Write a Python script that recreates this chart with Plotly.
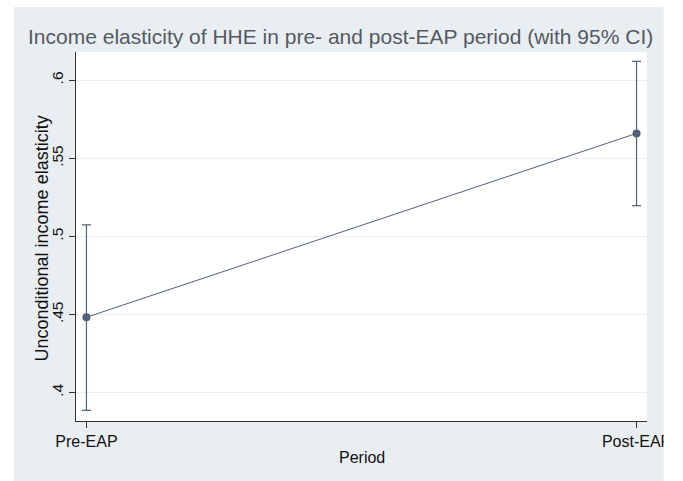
import plotly.graph_objects as go

# Income elasticity estimates with 95% confidence bounds
periods = ["Pre-EAP", "Post-EAP"]
elasticity = [0.4483, 0.5660]
ci_lower = [0.3887, 0.5198]
ci_upper = [0.5075, 0.6121]
y_ticks = [0.4, 0.45, 0.5, 0.55, 0.6]
y_tick_labels = [".4", ".45", ".5", ".55", ".6"]

x_pos = list(range(len(periods)))
err_plus = [u - e for u, e in zip(ci_upper, elasticity)]
err_minus = [e - l for l, e in zip(ci_lower, elasticity)]

W, H = 683, 481
ML, MR, MT, MB = 76, 28, 52, 60
PW, PH = W - ML - MR, H - MT - MB


def px_x(px):
    return (px - ML) / PW


def px_y(py):
    return (H - MB - py) / PH


mark_color = "#52627a"
font_family = "Liberation Sans, Arial, Helvetica, sans-serif"

fig = go.Figure()
fig.add_trace(go.Scatter(
    x=x_pos, y=elasticity,
    mode="lines+markers",
    line=dict(color=mark_color, width=1),
    marker=dict(color=mark_color, size=8),
    error_y=dict(type="data", symmetric=False, array=err_plus,
                 arrayminus=err_minus, color=mark_color,
                 thickness=1.2, width=4.5),
    showlegend=False,
    cliponaxis=False,
))

fig.update_layout(
    width=W, height=H,
    margin=dict(l=ML, r=MR, t=MT, b=MB, pad=0),
    paper_bgcolor="white",
    plot_bgcolor="white",
    font=dict(family=font_family, color="#111111", size=15),
    xaxis=dict(
        range=[-0.019, 1.019],
        tickvals=x_pos, ticktext=periods,
        ticks="outside", ticklen=6, tickwidth=1, tickcolor="#333333",
        showline=True, linecolor="#333333", linewidth=1,
        showgrid=False, zeroline=False,
        tickfont=dict(size=16, color="#111111"),
    ),
    yaxis=dict(
        range=[0.3819, 0.6181],
        tickvals=y_ticks, ticktext=y_tick_labels,
        tickangle=-90,
        ticks="outside", ticklen=6, tickwidth=1, tickcolor="#333333",
        showline=True, linecolor="#333333", linewidth=1,
        showgrid=True, gridcolor="#e9eef2", gridwidth=1,
        zeroline=False,
        tickfont=dict(size=15.5, color="#111111"),
    ),
    shapes=[
        # graph region background
        dict(type="rect", xref="paper", yref="paper", layer="below",
             x0=px_x(13), x1=px_x(672), y0=px_y(481), y1=px_y(7),
             fillcolor="#e9eef2", line=dict(width=0)),
        # white plot region on top of the background
        dict(type="rect", xref="paper", yref="paper", layer="below",
             x0=0, x1=1, y0=0, y1=1,
             fillcolor="white", line=dict(width=0)),
        # page edge beyond the graph region
        dict(type="rect", xref="paper", yref="paper", layer="above",
             x0=px_x(672), x1=px_x(690), y0=px_y(490), y1=px_y(-5),
             fillcolor="white", line=dict(width=0)),
    ],
    annotations=[
        dict(text="Income elasticity of HHE in pre- and post-EAP period (with 95% CI)",
             xref="paper", yref="paper", x=px_x(344), y=px_y(37),
             xanchor="center", yanchor="middle", showarrow=False,
             font=dict(size=21, color="#555a62")),
        dict(text="Unconditional income elasticity",
             xref="paper", yref="paper", x=px_x(42), y=px_y(238),
             xanchor="center", yanchor="middle", showarrow=False,
             textangle=-90, font=dict(size=18, color="#111111")),
        dict(text="Period",
             xref="paper", yref="paper", x=px_x(365.5), y=px_y(457),
             xanchor="center", yanchor="middle", showarrow=False,
             font=dict(size=16, color="#111111")),
    ],
)

fig.write_html("out.html")
